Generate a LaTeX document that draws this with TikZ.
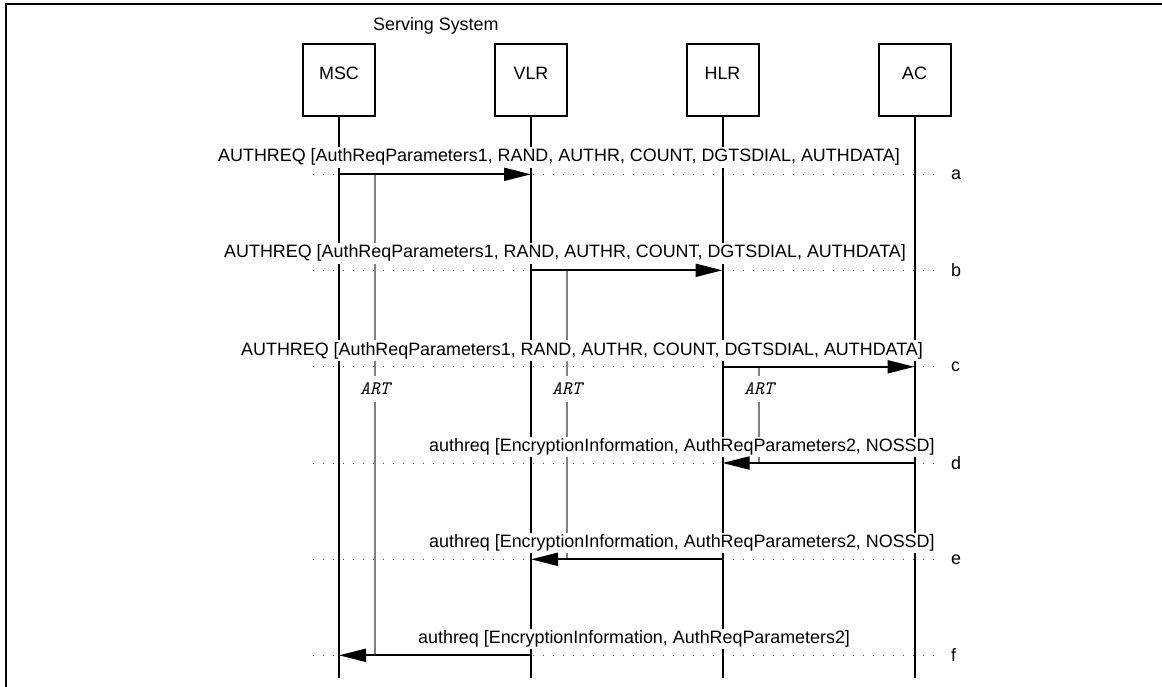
\documentclass[tikz,border=0pt]{standalone}
\usepackage{fontspec}
\setmainfont{Liberation Sans}
\usetikzlibrary{arrows.meta}
\begin{document}
\begin{tikzpicture}[x=1pt,y=-1pt,
  every node/.style={font=\fontsize{17.9}{20}\selectfont},
  entity/.style={draw, line width=2pt, minimum width=72pt, minimum height=72pt, inner sep=0pt, text height=12pt, text depth=12pt},
  life/.style={line width=2pt},
  msg/.style={line width=2pt, -{Triangle[length=27pt,width=13pt]}},
  rowdots/.style={line width=1pt, black!70, dash pattern=on 1pt off 9pt},
  artline/.style={line width=2pt, black!50},
  artlabel/.style={fill=white, inner sep=0pt, minimum height=26pt, minimum width=34pt, font=\fontsize{19}{20}\ttfamily\itshape},
  msglabel/.style={anchor=base west, fill=white, inner xsep=0pt, inner ysep=2pt},
  rowletter/.style={anchor=west, inner sep=0pt}
]
\useasboundingbox (0,0) rectangle (1162,687);
\draw[line width=2pt] (5.5,687) -- (5.5,4) -- (1162,4);

\node[anchor=base west, inner sep=0pt] (serving) at (373,31) {Serving System};

\node[entity] (msc) at (339,80) {MSC};
\node[entity] (vlr) at (531,80) {VLR};
\node[entity] (hlr) at (722.5,80) {HLR};
\node[entity] (ac)  at (914.5,80) {AC};

\coordinate (msc-end) at (339,678);
\coordinate (vlr-end) at (531,678);
\coordinate (hlr-end) at (722.5,678);
\coordinate (ac-end)  at (914.5,678);

\draw[life] (msc.south) -- (msc-end);
\draw[life] (vlr.south) -- (vlr-end);
\draw[life] (hlr.south) -- (hlr-end);
\draw[life] (ac.south)  -- (ac-end);

% rows
\coordinate (ra) at (0,174.3);
\coordinate (rb) at (0,270.3);
\coordinate (rc) at (0,366.8);
\coordinate (rd) at (0,463);
\coordinate (re) at (0,559.3);
\coordinate (rf) at (0,655.3);

\foreach \r/\l in {ra/a, rb/b, rc/c, rd/d, re/e, rf/f}{
  \coordinate (dl-\r) at ([xshift=313pt]\r);
  \coordinate (dr-\r) at ([xshift=936pt]\r);
  \draw[rowdots] (dl-\r) -- (dr-\r);
  \node[rowletter] (lt-\r) at ([xshift=951pt]\r) {\l};
}

% ART timers
\coordinate (art1-top) at (375,174.3);
\coordinate (art1-bot) at (375,655.3);
\coordinate (art2-top) at (567,270.3);
\coordinate (art2-bot) at (567,559.3);
\coordinate (art3-top) at (759,366.8);
\coordinate (art3-bot) at (759,463);
\draw[artline] (art1-top) -- (art1-bot);
\draw[artline] (art2-top) -- (art2-bot);
\draw[artline] (art3-top) -- (art3-bot);
\node[artlabel] (art1) at (375,389) {ART};
\node[artlabel] (art2) at (567,389) {ART};
\node[artlabel] (art3) at (759,389) {ART};

% message labels
\node[msglabel] (la) at (218,162) {AUTHREQ [AuthReqParameters1, RAND, AUTHR, COUNT, DGTSDIAL, AUTHDATA]};
\node[msglabel] (lb) at (224,258) {AUTHREQ [AuthReqParameters1, RAND, AUTHR, COUNT, DGTSDIAL, AUTHDATA]};
\node[msglabel] (lc) at (241,355) {AUTHREQ [AuthReqParameters1, RAND, AUTHR, COUNT, DGTSDIAL, AUTHDATA]};
\node[msglabel] (ld) at (429,451.5) {authreq [EncryptionInformation, AuthReqParameters2, NOSSD]};
\node[msglabel] (le) at (429,547.5) {authreq [EncryptionInformation, AuthReqParameters2, NOSSD]};
\node[msglabel] (lf) at (418,643.5) {authreq [EncryptionInformation, AuthReqParameters2]};

% messages
\draw[msg] (msc |- ra) -- (vlr |- ra);
\draw[msg] (vlr |- rb) -- (hlr |- rb);
\draw[msg] (hlr |- rc) -- (ac |- rc);
\draw[msg] (ac |- rd) -- (hlr |- rd);
\draw[msg] (hlr |- re) -- (vlr |- re);
\draw[msg] (vlr |- rf) -- (msc |- rf);
\end{tikzpicture}
\end{document}
